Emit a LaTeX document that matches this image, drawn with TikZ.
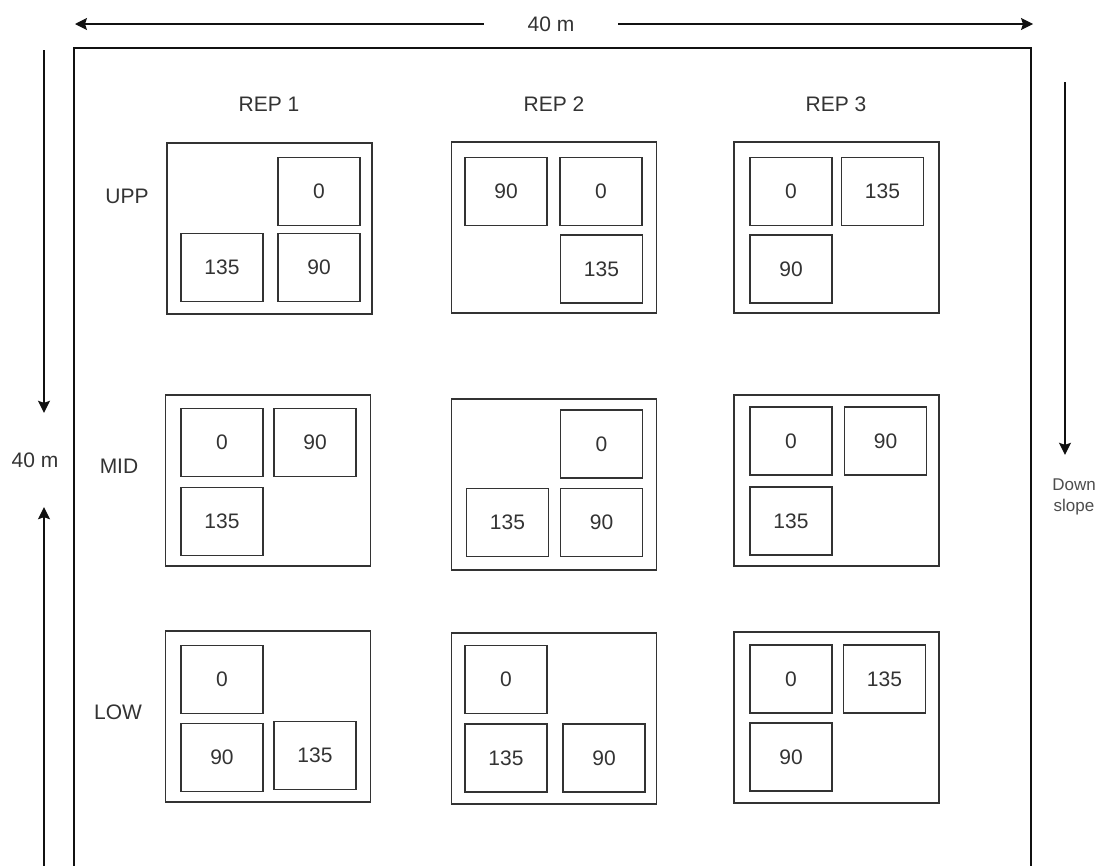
\documentclass[tikz,border=0pt]{standalone}
\usepackage{fontspec}
\setmainfont{Liberation Sans}
\usepackage{tikz}
\usetikzlibrary{arrows.meta,positioning}
\definecolor{ink}{HTML}{111111}
\definecolor{inkgray}{HTML}{333333}
\definecolor{slopegray}{HTML}{4D4D4D}
\tikzset{
  plotbox/.style={draw=inkgray,line width=1.2pt,minimum width=82pt,
                  minimum height=68pt,inner sep=0pt,text=inkgray,
                  font=\fontsize{21}{25}\selectfont},
  block/.style={draw=inkgray,line width=1.2pt,minimum width=205pt,
                minimum height=171pt,inner sep=0pt},
  lbl/.style={inner sep=0pt,text=inkgray,font=\fontsize{21}{25}\selectfont},
  dimarr/.style={-{Stealth[length=12pt,width=12pt,inset=2pt]},
                 line width=1.3pt,draw=ink},
  fieldframe/.style={draw=ink,line width=2.4pt}
}
\begin{document}
\begin{tikzpicture}[x=1pt,y=-1pt]
    \clip (0,0) rectangle (1108,865);
    \fill[white] (0,0) rectangle (1108,865);

    % field and dimensions
    \draw[fieldframe] (74,48) rectangle (1031,900);
    \coordinate (topleft) at (75,24);
    \coordinate (topright) at (1033,24);
    \node[lbl,minimum width=134pt] (top40) at (551,24) {40 m};
    \draw[dimarr] (top40.west) -- (topleft);
    \draw[dimarr] (top40.east) -- (topright);

    \coordinate (lefttop) at (44,50);
    \coordinate (leftbot) at (44,880);
    \node[lbl,minimum height=94pt] (side40) at (35,460) {40 m};
    \draw[dimarr] (lefttop) -- (side40.north -| lefttop);
    \draw[dimarr] (leftbot) -- (side40.south -| lefttop);

    \coordinate (slopetop) at (1065,82);
    \node[lbl,align=center,text=slopegray,minimum height=84pt,
          font=\fontsize{17}{21}\selectfont] (slope) at (1074,497)
      {Down\\slope};
    \draw[dimarr] (slopetop) -- (slopetop |- slope.north);

    % replicate and position labels
    \node[lbl] (rep1) at (269,104) {REP 1};
    \node[lbl] (rep2) at (554,104) {REP 2};
    \node[lbl] (rep3) at (836,104) {REP 3};
    \node[lbl] (upp) at (127,196) {UPP};
    \node[lbl] (mid) at (119,466) {MID};
    \node[lbl] (low) at (118,712) {LOW};

    % upper blocks
    \node[block] (u1) at (269.5,228.5) {};
    \node[plotbox] (u1a) at (319,191.5) {0};
    \node[plotbox] (u1b) at (222,267.5) {135};
    \node[plotbox] (u1c) at (319,267.5) {90};

    \node[block] (u2) at (554,227.5) {};
    \node[plotbox] (u2a) at (506,191.5) {90};
    \node[plotbox] (u2b) at (601,191.5) {0};
    \node[plotbox] (u2c) at (601.5,269) {135};

    \node[block] (u3) at (836.5,227.5) {};
    \node[plotbox] (u3a) at (791,191.5) {0};
    \node[plotbox] (u3b) at (882.5,191.5) {135};
    \node[plotbox] (u3c) at (791,269) {90};

    % middle blocks
    \node[block] (m1) at (268,480.5) {};
    \node[plotbox] (m1a) at (222,442.5) {0};
    \node[plotbox] (m1b) at (315,442.5) {90};
    \node[plotbox] (m1c) at (222,521.5) {135};

    \node[block] (m2) at (554,484.5) {};
    \node[plotbox] (m2a) at (601.5,444) {0};
    \node[plotbox] (m2b) at (507.5,522.5) {135};
    \node[plotbox] (m2c) at (601.5,522.5) {90};

    \node[block] (m3) at (836.5,480.5) {};
    \node[plotbox] (m3a) at (791,441) {0};
    \node[plotbox] (m3b) at (885.5,441) {90};
    \node[plotbox] (m3c) at (791,521) {135};

    % lower blocks
    \node[block] (l1) at (268,716.5) {};
    \node[plotbox] (l1a) at (222,679.5) {0};
    \node[plotbox] (l1b) at (222,757.5) {90};
    \node[plotbox] (l1c) at (315,755.5) {135};

    \node[block] (l2) at (554,718.5) {};
    \node[plotbox] (l2a) at (506,679.5) {0};
    \node[plotbox] (l2b) at (506,758) {135};
    \node[plotbox] (l2c) at (604,758) {90};

    \node[block] (l3) at (836.5,717.5) {};
    \node[plotbox] (l3a) at (791,679) {0};
    \node[plotbox] (l3b) at (884.5,679) {135};
    \node[plotbox] (l3c) at (791,757) {90};
\end{tikzpicture}
\end{document}
